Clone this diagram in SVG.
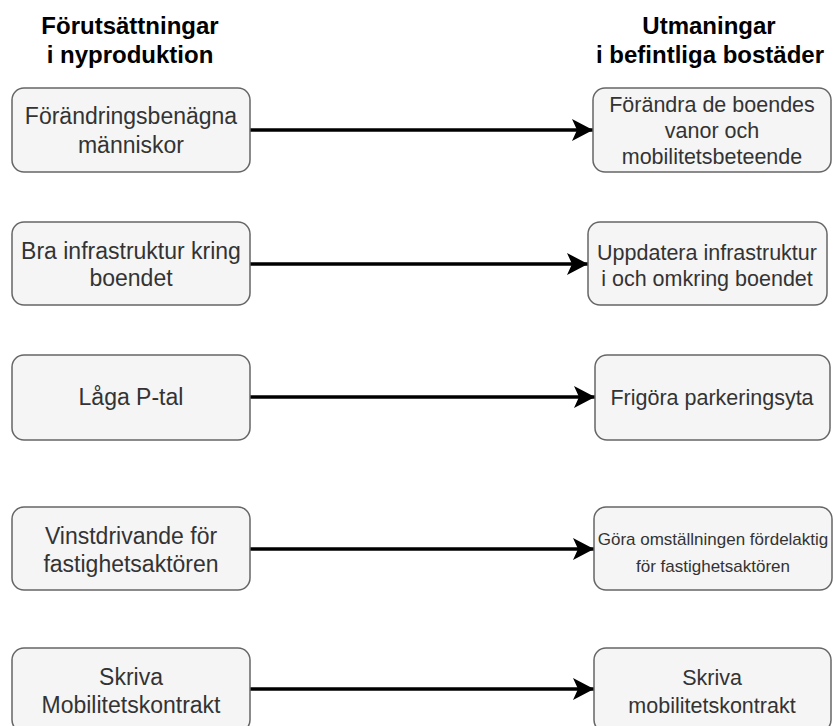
<svg xmlns="http://www.w3.org/2000/svg" width="833" height="726" viewBox="0 0 833 726">
<style>
.box{fill:#f5f5f5;stroke:#666666;stroke-width:1.5}
.t{font-family:"Liberation Sans",Arial,sans-serif;fill:#333333;text-anchor:middle}
.l{font-size:23px}
.r{font-size:21.5px}
.s{font-size:17px}
.h{font-family:"Liberation Sans",Arial,sans-serif;font-weight:bold;font-size:24px;fill:#000;text-anchor:middle}
.c{stroke:#000;stroke-width:3.5;fill:none}
</style>
<defs>
<marker id="arr" markerUnits="userSpaceOnUse" markerWidth="24" markerHeight="26" refX="22" refY="12" orient="auto" viewBox="0 0 24 24">
<path d="M22,12 L1,1 L6,12 L1,23 Z" fill="#000"/>
</marker>
</defs>
<g id="headings">
<text class="h" x="130" y="34">Förutsättningar</text>
<text class="h" x="130" y="63">i nyproduktion</text>
<text class="h" x="709" y="34">Utmaningar</text>
<text class="h" x="710" y="63">i befintliga bostäder</text>
</g>
<g id="connectors">
<line class="c" x1="250" y1="130" x2="593" y2="130" marker-end="url(#arr)"/>
<line class="c" x1="250" y1="264" x2="588" y2="264" marker-end="url(#arr)"/>
<line class="c" x1="250" y1="397" x2="595" y2="397" marker-end="url(#arr)"/>
<line class="c" x1="250" y1="549" x2="594" y2="549" marker-end="url(#arr)"/>
<line class="c" x1="250" y1="689" x2="594" y2="689" marker-end="url(#arr)"/>
</g>
<g id="l1">
<rect class="box" x="12" y="88" width="238" height="84" rx="12"/>
<text class="t l" x="131" y="124">Förändringsbenägna</text>
<text class="t l" x="131" y="153">människor</text>
</g>
<g id="l2">
<rect class="box" x="12" y="222" width="238" height="83" rx="12"/>
<text class="t l" x="131" y="259">Bra infrastruktur kring</text>
<text class="t l" x="131" y="286">boendet</text>
</g>
<g id="l3">
<rect class="box" x="12" y="355" width="238" height="85" rx="12"/>
<text class="t l" x="131" y="405">Låga P-tal</text>
</g>
<g id="l4">
<rect class="box" x="12" y="507" width="238" height="83" rx="12"/>
<text class="t l" x="131" y="544">Vinstdrivande för</text>
<text class="t l" x="131" y="572">fastighetsaktören</text>
</g>
<g id="l5">
<rect class="box" x="12" y="648" width="238" height="84" rx="12"/>
<text class="t l" x="131" y="685">Skriva</text>
<text class="t l" x="131" y="713">Mobilitetskontrakt</text>
</g>
<g id="r1">
<rect class="box" x="593" y="88" width="238" height="84" rx="12"/>
<text class="t r" x="712" y="112">Förändra de boendes</text>
<text class="t r" x="712" y="138">vanor och</text>
<text class="t r" x="712" y="164">mobilitetsbeteende</text>
</g>
<g id="r2">
<rect class="box" x="588" y="222" width="239" height="83" rx="12"/>
<text class="t r" x="707" y="260">Uppdatera infrastruktur</text>
<text class="t r" x="707" y="286">i och omkring boendet</text>
</g>
<g id="r3">
<rect class="box" x="595" y="355" width="235" height="85" rx="12"/>
<text class="t r" x="712" y="405">Frigöra parkeringsyta</text>
</g>
<g id="r4">
<rect class="box" x="594" y="507" width="238" height="83" rx="12"/>
<text class="t s" x="713" y="545">Göra omställningen fördelaktig</text>
<text class="t s" x="713" y="572">för fastighetsaktören</text>
</g>
<g id="r5">
<rect class="box" x="594" y="648" width="237" height="84" rx="12"/>
<text class="t r" x="712" y="685">Skriva</text>
<text class="t r" x="712" y="713">mobilitetskontrakt</text>
</g>
</svg>
